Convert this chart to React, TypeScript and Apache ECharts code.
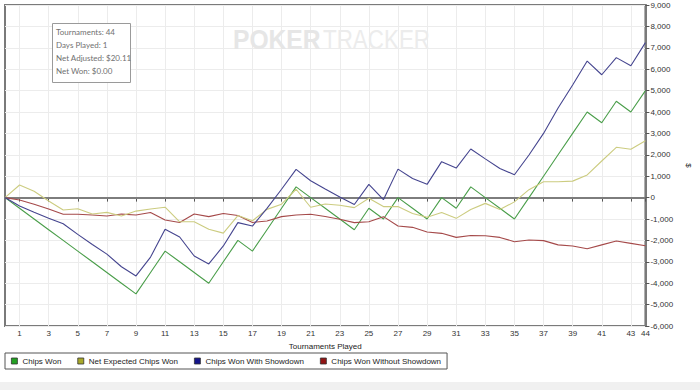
import React, { useEffect, useRef } from "react";
import * as echarts from "echarts";

const tournaments = [
  "0", "1", "2", "3", "4", "5", "6", "7", "8", "9", "10", "11", "12", "13", "14",
  "15", "16", "17", "18", "19", "20", "21", "22", "23", "24", "25", "26", "27", "28",
  "29", "30", "31", "32", "33", "34", "35", "36", "37", "38", "39", "40", "41", "42",
  "43", "44",
];

const chipsWon = [
  0, -500, -1000, -1500, -2000, -2500, -3000, -3500, -4000, -4500, -3500, -2500, -3000,
  -3500, -4000, -3000, -2000, -2500, -1500, -500, 500, 0, -500, -1000, -1500, -500,
  -1000, 0, -500, -1000, 0, -500, 500, 0, -500, -1000, 0, 1000, 2000, 3000, 4000, 3500,
  4500, 4000, 5000,
];

const netExpected = [
  0, 590, 300, -160, -580, -520, -770, -690, -860, -630, -530, -450, -1130, -1130,
  -1480, -1660, -840, -1080, -550, -310, 390, -450, -300, -360, -470, -30, -420, -420,
  -740, -920, -700, -970, -560, -270, -560, -200, 370, 740, 740, 770, 1060, 1710, 2350,
  2260, 2660,
];

const withShowdown = [
  0, -390, -690, -970, -1220, -1720, -2190, -2640, -3230, -3660, -2780, -1480, -1840,
  -2730, -3100, -2260, -1170, -1330, -500, 390, 1320, 790, 400, 30, -320, 620, -100,
  1330, 890, 620, 1680, 1380, 2270, 1810, 1360, 1070, 1990, 3000, 4190, 5260, 6380,
  5740, 6540, 6160, 7240,
];

const withoutShowdown = [
  0, -110, -310, -530, -780, -780, -810, -860, -770, -810, -700, -1050, -1160, -770,
  -890, -740, -840, -1160, -1090, -890, -810, -780, -880, -1010, -1170, -1130, -890,
  -1330, -1390, -1610, -1670, -1860, -1770, -1780, -1860, -2060, -1980, -2010, -2210,
  -2260, -2390, -2210, -2030, -2140, -2250,
];

const seriesNames = [
  "Chips Won",
  "Net Expected Chips Won",
  "Chips Won With Showdown",
  "Chips Won Without Showdown",
];
const lineColors = ["#4a9e4a", "#cccc80", "#45458f", "#a54a4a"];
const iconColors = ["#22a022", "#a8a828", "#14148a", "#901414"];

const infoLines = [
  "Tournaments: 44",
  "Days Played: 1",
  "Net Adjusted: $20.11",
  "Net Won: $0.00",
];

const FONT = "'Liberation Sans', Arial, sans-serif";

export default function App() {
  const ref = useRef<HTMLDivElement>(null);

  useEffect(() => {
    if (!ref.current) return;
    const chart = echarts.init(ref.current, null, { renderer: "svg" });
    const showTick = (index: number) => index % 2 === 1 || index === 44;
    const dataSets = [chipsWon, netExpected, withShowdown, withoutShowdown];

    chart.setOption({
      animation: false,
      backgroundColor: "#ffffff",
      textStyle: { fontFamily: FONT },
      grid: {
        left: 5,
        right: 43,
        top: 5,
        bottom: 64,
        show: true,
        borderColor: "#7a7a7a",
        borderWidth: 2,
        backgroundColor: "transparent",
      },
      legend: {
        left: 5,
        top: 353,
        orient: "horizontal",
        itemWidth: 6,
        itemHeight: 6,
        itemGap: 16,
        padding: [4, 6, 4, 6],
        borderColor: "#555555",
        borderWidth: 1,
        textStyle: { fontSize: 8, color: "#222222", fontFamily: FONT },
        data: seriesNames.map((name, i) => ({
          name,
          icon: "rect",
          itemStyle: { color: iconColors[i], borderColor: "#333333", borderWidth: 0.8 },
        })),
      },
      xAxis: {
        type: "category",
        data: tournaments,
        boundaryGap: false,
        name: "Tournaments Played",
        nameLocation: "middle",
        nameGap: 16,
        nameTextStyle: { fontSize: 8, color: "#222222", fontFamily: FONT },
        axisLine: { show: true, lineStyle: { color: "#7a7a7a", width: 2 } },
        axisTick: {
          show: true,
          interval: (index: number) => showTick(index),
          length: 4,
          lineStyle: { color: "#555555" },
        },
        axisLabel: {
          interval: (index: number) => showTick(index),
          fontSize: 8,
          color: "#333333",
          margin: 3,
          fontFamily: FONT,
        },
        splitLine: {
          show: true,
          interval: (index: number) => index % 2 === 1,
          lineStyle: { color: "#ececec", width: 1 },
        },
      },
      yAxis: {
        type: "value",
        position: "right",
        min: -6000,
        max: 9000,
        interval: 1000,
        name: "$",
        nameLocation: "middle",
        nameGap: 34,
        nameRotate: -90,
        nameTextStyle: { fontSize: 8, color: "#222222", fontFamily: FONT },
        axisLine: { show: true, lineStyle: { color: "#7a7a7a", width: 2 } },
        axisTick: { show: true, length: 4, lineStyle: { color: "#555555" } },
        axisLabel: {
          fontSize: 8,
          color: "#333333",
          margin: 5,
          fontFamily: FONT,
          formatter: (v: number) => v.toLocaleString("en-US"),
        },
        splitLine: { show: true, lineStyle: { color: "#ececec", width: 1 } },
      },
      series: seriesNames.map((name, i) => ({
        name,
        type: "line",
        data: dataSets[i],
        showSymbol: false,
        symbol: "none",
        itemStyle: { color: iconColors[i] },
        lineStyle: { color: lineColors[i], width: 1.1 },
        z: 3 + (i === 3 ? 0 : i),
        markLine:
          i === 0
            ? {
                silent: true,
                symbol: "none",
                label: { show: false },
                lineStyle: { color: "#7d7d7d", width: 2, type: "solid" },
                data: [{ yAxis: 0 }],
                z: 2,
              }
            : undefined,
      })),
      graphic: [
        {
          type: "text",
          left: 233,
          top: 25,
          z: 1,
          silent: true,
          scaleX: 0.88,
          style: {
            text: "POKER",
            fontSize: 28,
            fontWeight: "bold",
            fontFamily: FONT,
            fill: "#e6e6e6",
          },
        },
        {
          type: "text",
          left: 323,
          top: 25,
          z: 1,
          silent: true,
          scaleX: 0.8,
          style: {
            text: "TRACKER",
            fontSize: 28,
            fontFamily: FONT,
            fill: "#ececec",
          },
        },
        {
          type: "rect",
          shape: { x: 52.5, y: 23.5, width: 78, height: 59 },
          z: 100,
          style: { fill: "#ffffff", stroke: "#9a9a9a", lineWidth: 1 },
        },
        ...infoLines.map((t, i) => ({
          type: "text",
          x: 56,
          y: 32 + i * 13,
          z: 101,
          style: {
            text: t,
            fontSize: 8,
            fontFamily: "Lato, 'Open Sans', sans-serif",
            fill: "#707070",
            verticalAlign: "middle",
          },
        })),
        {
          type: "rect",
          shape: { x: 0, y: 382, width: 700, height: 8 },
          z: 0,
          style: { fill: "#f0f0f0" },
        },
      ],
    });

    return () => {
      chart.dispose();
    };
  }, []);

  return (
    <div
      ref={ref}
      style={{ position: "absolute", left: 0, top: 0, width: 700, height: 390 }}
    />
  );
}
